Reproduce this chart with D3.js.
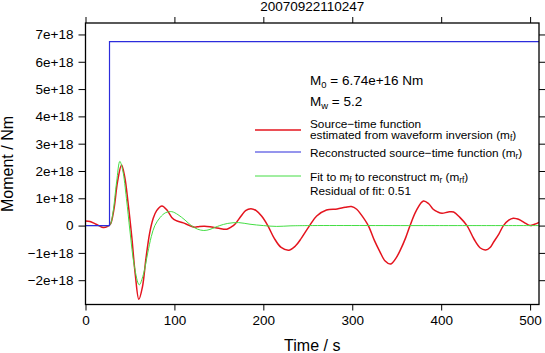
<!DOCTYPE html>
<html>
<head>
<meta charset="utf-8">
<script src="https://cdn.jsdelivr.net/npm/d3@7"></script>
<style>
  body { margin: 0; background: #fff; }
  text { font-family: "Liberation Sans", Arial, sans-serif; fill: #000; }
</style>
</head>
<body>
<script>
// ================= Data (moment in units of 1e18 Nm) ======================
const title = "20070922110247";

const redTime = [0, 5, 10, 15, 20, 25, 28, 32, 36, 40.5, 44, 48, 52, 56, 60, 64, 68, 72, 76, 80,
  86, 92, 97, 102, 110, 117, 123, 128, 134, 140, 150, 159, 164, 168, 175, 180, 186, 192, 198, 205,
  212, 220, 229, 236, 243, 252, 260, 271, 283, 292, 299, 305, 310, 318, 325, 331, 337, 343, 349, 354,
  360, 365, 372, 380, 386, 391, 396, 401, 408, 414, 421, 429, 437, 444, 450, 455, 459, 465, 470, 476,
  481, 485, 489, 495, 500, 505, 510];
const redValue = [0.17, 0.15, 0.08, 0.0, -0.07, -0.03, 0.05, 0.6, 1.6, 2.22, 1.8, 0.8, -0.4, -1.8, -2.7, -2.25, -1.2, -0.3, 0.25, 0.55,
  0.72, 0.55, 0.3, 0.18, 0.1, 0.0, -0.06, -0.03, -0.02, -0.04, -0.1, -0.13, -0.05, 0.05, 0.35, 0.55, 0.62, 0.55, 0.35, 0.0,
  -0.45, -0.8, -0.9, -0.75, -0.45, 0.0, 0.35, 0.57, 0.61, 0.67, 0.70, 0.6, 0.4, 0.0, -0.55, -0.95, -1.3, -1.41, -1.2, -0.9,
  -0.45, 0.0, 0.55, 0.9, 0.8, 0.6, 0.5, 0.45, 0.5, 0.5, 0.3, 0.0, -0.5, -0.82, -0.89, -0.8, -0.6, -0.3, 0.0, 0.2,
  0.27, 0.25, 0.2, 0.08, 0.0, 0.05, 0.12];

const greenTime = [0, 20, 26, 28, 31, 35, 38.6, 42, 46, 50, 55, 60.4, 65, 70, 74, 78, 84, 90, 97, 104,
  112, 119, 126, 133, 140, 146, 151, 160, 172, 185, 200, 215, 230, 250, 380, 510];
const greenValue = [0, 0, 0, 0.05, 0.5, 1.6, 2.35, 2.0, 1.0, -0.2, -1.5, -2.17, -1.8, -1.0, -0.4, 0.0, 0.3, 0.47, 0.51, 0.4,
  0.2, 0.0, -0.13, -0.18, -0.14, -0.06, 0.0, 0.08, 0.11, 0.05, 0.0, -0.03, -0.01, 0.0, 0.0, 0.0];

const blueTime = [0, 27, 27, 510];
const blueValue = [0, 0, 6.74, 6.74];

const xTicks = [0, 100, 200, 300, 400, 500];
const yTicks = [-2, -1, 0, 1, 2, 3, 4, 5, 6, 7];
const yTickLabels = ["\u22122e+18", "\u22121e+18", "0", "1e+18", "2e+18", "3e+18", "4e+18", "5e+18", "6e+18", "7e+18"];

// ================== LAYOUT ===========================
const W = 545, H = 353;
const margin = {left: 85.5, right: 6, top: 23, bottom: 48.5};
const width = W - margin.left - margin.right;
const height = H - margin.top - margin.bottom;

const svg = d3.select("body").append("svg")
  .attr("width", W).attr("height", H);

const g = svg.append("g")
  .attr("transform", `translate(${margin.left},${margin.top})`);

const xScale = d3.scaleLinear().domain([0, 510]).range([0, width]);
const yScale = d3.scaleLinear().domain([-2.89, 7.42]).range([height, 0]);

// ===================== AXES =======================
const fmtY = d => yTickLabels[yTicks.indexOf(d)];

function styleAxis(sel) {
  sel.select(".domain").remove();
  sel.selectAll("line").attr("stroke", "#000").attr("stroke-width", 1);
  sel.selectAll("text").attr("font-size", 13.5).attr("font-family", "Liberation Sans, Arial, sans-serif").attr("fill", "#000");
}

g.append("g").attr("transform", `translate(0,${height})`)
  .call(d3.axisBottom(xScale).tickValues(xTicks).tickSize(6).tickPadding(5))
  .call(styleAxis);
g.append("g")
  .call(d3.axisTop(xScale).tickValues(xTicks).tickSize(6).tickFormat(""))
  .call(styleAxis);
g.append("g")
  .call(d3.axisLeft(yScale).tickValues(yTicks).tickSize(7).tickPadding(5).tickFormat(fmtY))
  .call(styleAxis);
g.append("g").attr("transform", `translate(${width},0)`)
  .call(d3.axisRight(yScale).tickValues(yTicks).tickSize(6).tickFormat(""))
  .call(styleAxis);

// clip
g.append("clipPath").attr("id", "clip")
  .append("rect").attr("width", width).attr("height", height);

// ==================== Lines ===========================
const smooth = d3.line()
  .x(d => xScale(d[0])).y(d => yScale(d[1]))
  .curve(d3.curveCatmullRom.alpha(0.5));
const straight = d3.line()
  .x(d => xScale(d[0])).y(d => yScale(d[1]));

const lines = g.append("g").attr("clip-path", "url(#clip)");
lines.append("path")
  .attr("fill", "none").attr("stroke", "#e4141e").attr("stroke-width", 1.5)
  .attr("d", smooth(d3.zip(redTime, redValue)));
lines.append("path")
  .attr("fill", "none").attr("stroke", "#44dd44").attr("stroke-width", 1)
  .attr("d", smooth(d3.zip(greenTime, greenValue)));
lines.append("path")
  .attr("fill", "none").attr("stroke", "#2c2cdc").attr("stroke-width", 1.2)
  .attr("d", straight(d3.zip(blueTime, blueValue)));

// frame
g.append("rect").attr("width", width).attr("height", height)
  .attr("fill", "none").attr("stroke", "#000").attr("stroke-width", 1.3);

// ==================== Text ===========================
svg.append("text").attr("x", margin.left + width / 2).attr("y", 11)
  .attr("text-anchor", "middle").attr("font-size", 13.5).text(title);

svg.append("text").attr("x", margin.left + width / 2).attr("y", 351)
  .attr("text-anchor", "middle").attr("font-size", 16).text("Time / s");

svg.append("text").attr("transform", `translate(13,164) rotate(-90)`)
  .attr("text-anchor", "middle").attr("font-size", 16).text("Moment / Nm");

function sub(sel, base, s, rest) {
  sel.append("tspan").text(base);
  sel.append("tspan").attr("font-size", "70%").attr("dy", 3).text(s);
  sel.append("tspan").attr("dy", -3).text(rest);
}

const info1 = svg.append("text").attr("x", 310).attr("y", 85).attr("font-size", 13.5);
sub(info1, "M", "0", " = 6.74e+16 Nm");
const info2 = svg.append("text").attr("x", 310).attr("y", 106).attr("font-size", 13.5);
sub(info2, "M", "w", " = 5.2");

// legend
const legend = svg.append("g");
const legX1 = 255, legX2 = 301, txtX = 310;
legend.append("line").attr("x1", legX1).attr("x2", legX2).attr("y1", 130).attr("y2", 130)
  .attr("stroke", "#e4141e").attr("stroke-width", 1.5);
legend.append("line").attr("x1", legX1).attr("x2", legX2).attr("y1", 152).attr("y2", 152)
  .attr("stroke", "#2c2cdc").attr("stroke-width", 1.2);
legend.append("line").attr("x1", legX1).attr("x2", legX2).attr("y1", 176).attr("y2", 176)
  .attr("stroke", "#44dd44").attr("stroke-width", 1);

const fs = 11.8;
legend.append("text").attr("x", txtX).attr("y", 128).attr("font-size", fs).text("Source\u2212time function");
const l2 = legend.append("text").attr("x", txtX).attr("y", 139).attr("font-size", fs);
l2.append("tspan").text("estimated from waveform inversion (m");
l2.append("tspan").attr("font-size", "70%").attr("dy", 2).text("f");
l2.append("tspan").attr("dy", -2).text(")");
const l3 = legend.append("text").attr("x", txtX).attr("y", 157).attr("font-size", fs);
l3.append("tspan").text("Reconstructed source\u2212time function (m");
l3.append("tspan").attr("font-size", "70%").attr("dy", 2).text("r");
l3.append("tspan").attr("dy", -2).text(")");
const l4 = legend.append("text").attr("x", txtX).attr("y", 181).attr("font-size", fs);
l4.append("tspan").text("Fit to m");
l4.append("tspan").attr("font-size", "70%").attr("dy", 2).text("f");
l4.append("tspan").attr("dy", -2).text(" to reconstruct m");
l4.append("tspan").attr("font-size", "70%").attr("dy", 2).text("r");
l4.append("tspan").attr("dy", -2).text(" (m");
l4.append("tspan").attr("font-size", "70%").attr("dy", 2).text("rf");
l4.append("tspan").attr("dy", -2).text(")");
legend.append("text").attr("x", txtX).attr("y", 195).attr("font-size", fs).text("Residual of fit: 0.51");
</script>
</body>
</html>
